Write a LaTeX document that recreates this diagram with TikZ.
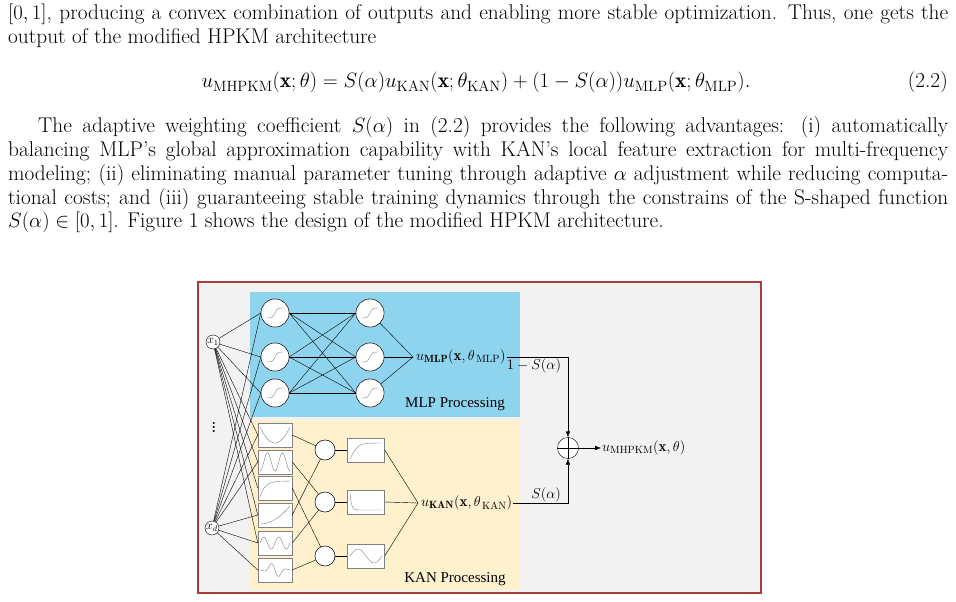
\documentclass[tikz,border=0pt]{standalone}
\usepackage{amsmath}
\usepackage{fontspec}
\newfontfamily\figfont{Liberation Serif}
\usetikzlibrary{arrows.meta}
\definecolor{framered}{RGB}{170,60,55}
\definecolor{framebg}{RGB}{242,242,242}
\definecolor{mlpblue}{RGB}{143,212,238}
\definecolor{kanyellow}{RGB}{255,241,206}
\tikzset{
  line/.style={anchor=base west,inner sep=0pt,font=\fontsize{21.3}{24}\selectfont},
  neuron/.style={circle,draw,fill=white,minimum size=28pt,inner sep=0pt},
  innode/.style={circle,draw,fill=white,minimum size=14pt,inner sep=0pt,font=\fontsize{12}{12}\selectfont},
  knode/.style={circle,draw,fill=white,minimum size=20pt,inner sep=0pt},
  kbox/.style={draw=gray,fill=white,minimum width=34pt,minimum height=24pt,inner sep=0pt},
  curve/.style={gray,thin,smooth},
  figtxt/.style={font=\figfont\fontsize{15}{16}\selectfont,inner sep=1pt}
}
\newcommand{\sigm}[1]{\draw[curve,shift={(#1.center)}] plot[domain=-9:9,samples=20] (\x,{-5*tanh(\x/2.5)});}
\begin{document}
\begin{tikzpicture}[x=1pt,y=-1pt]
\useasboundingbox (0,0) rectangle (956,602);
% text
\node[line] (t1) at (8,20) {\makebox[940pt][s]{$[0,1]$, producing a convex combination of outputs and enabling more stable optimization. Thus, one gets the}};
\node[line] (t2) at (8,44) {output of the modified HPKM architecture};
\node[line,anchor=base] (eq) at (476,88) {$u_{\mathrm{MHPKM}}(\mathbf{x};\theta)=S(\alpha)u_{\mathrm{KAN}}(\mathbf{x};\theta_{\mathrm{KAN}})+(1-S(\alpha))u_{\mathrm{MLP}}(\mathbf{x};\theta_{\mathrm{MLP}}).$};
\node[line,anchor=base east] (eqn) at (948,88) {(2.2)};
\node[line] (p1) at (38,132) {\makebox[910pt][s]{The adaptive weighting coefficient $S(\alpha)$ in (2.2) provides the following advantages: (i) automatically}};
\node[line] (p2) at (8,156) {\makebox[940pt][s]{balancing MLP's global approximation capability with KAN's local feature extraction for multi-frequency}};
\node[line] (p3) at (8,180) {\makebox[940pt][s]{modeling; (ii) eliminating manual parameter tuning through adaptive $\alpha$ adjustment while reducing computa-}};
\node[line] (p4) at (8,204) {\makebox[940pt][s]{tional costs; and (iii) guaranteeing stable training dynamics through the constrains of the S-shaped function}};
\node[line] (p5) at (8,227) {$S(\alpha)\in[0,1]$. Figure 1 shows the design of the modified HPKM architecture.};

% figure frame
\draw[draw=framered,line width=1.2pt,fill=framebg] (198,282) rectangle (761,593);
\fill[mlpblue] (250,292) rectangle (520,417);
\fill[kanyellow] (250,420) rectangle (520,590);

% inputs
\node[innode] (x1) at (213,342) {$x_1$};
\node[innode] (xd) at (212,528) {$x_d$};
\node[font=\Large\bfseries,inner sep=0pt] (dots) at (214,424) {$\vdots$};

% MLP neurons
\foreach \i/\y in {1/313,2/357,3/393} {
  \node[neuron] (a\i) at (275,\y) {};
  \node[neuron] (b\i) at (370,\y) {};
}
\coordinate (mlp) at (413,357);
\coordinate (kan) at (418,503);

% KAN boxes
\foreach \i/\y in {1/435,2/462,3/488,4/515,5/543,6/570}
  \node[kbox] (k\i) at (275,\y) {};
\foreach \i/\y in {1/450,2/502,3/556} {
  \node[knode] (c\i) at (325,\y) {};
  \node[kbox,minimum width=37pt] (d\i) at (366,\y) {};
}

% edges
\foreach \i in {1,2,3} {
  \draw (x1) -- (a\i.west);
  \draw (xd) -- (a\i.west);
  \draw (x1) -- (k\i.west);
  \draw (b\i) -- (mlp);
  \draw (c\i) -- (d\i);
  \draw (d\i.east) -- (kan);
  \foreach \j in {1,2,3}
    \draw (a\i.east) -- (b\j.west);
}
\foreach \i in {4,5,6} \draw (xd) -- (k\i.west);
\draw (x1) -- (k4.west);
\draw (x1) -- (k5.west);
\draw (xd) -- (k1.west);
\draw (xd) -- (k2.west);
\draw (k1.east) -- (c1);
\draw (k2.east) -- (c2);
\draw (k3.east) -- (c3);
\draw (k4.east) -- (c1);
\draw (k5.east) -- (c2);
\draw (k6.east) -- (c3);
\foreach \i in {1,2,3} {\node[neuron] at (a\i) {}; \node[neuron] at (b\i) {}; \sigm{a\i} \sigm{b\i}}
\foreach \i in {1,2,3} \node[knode] at (c\i) {};

% curves
\draw[curve,shift={(k1.center)}] plot[domain=-15:15,samples=25] (\x,{8-16*(\x/15)^2});
\draw[curve,shift={(k2.center)}] plot[domain=-15:15,samples=40] (\x,{9-18*sin(\x*12)^2});
\draw[curve,shift={(k3.center)}] plot[domain=-15:15,samples=25] (\x,{9-16*(1-exp(-(\x+15)/5))});
\draw[curve,shift={(k4.center)}] plot[domain=-15:15,samples=25] (\x,{9-18*((\x+15)/30)^2});
\draw[curve,shift={(k5.center)}] plot[domain=-15:15,samples=40] (\x,{-6*sin(\x*24)});
\draw[curve,shift={(k6.center)}] plot[domain=-15:15,samples=40] (\x,{8*sin(\x*22)*exp(-(\x/8)^2)});
\draw[curve,shift={(d1.center)}] plot[domain=-16:16,samples=25] (\x,{9-16*tanh((\x+16)/8)});
\draw[curve,shift={(d2.center)}] plot[domain=-16:16,samples=40] (\x,{-9+17*(1-exp(-(\x+16)/1.5))});
\draw[curve,shift={(d3.center)}] plot[domain=-16:16,samples=40] (\x,{7*sin(\x*11.25)});

% labels
\node[figtxt,anchor=west] (umlp) at (415,357) {$u_{\mathbf{MLP}}(\mathbf{x},\theta_{\,\mathrm{MLP}})$};
\node[figtxt,anchor=west] (ukan) at (420,503) {$u_{\mathbf{KAN}}(\mathbf{x},\theta_{\,\mathrm{KAN}})$};
\node[figtxt] (mlpt) at (455,404) {MLP Processing};
\node[figtxt] (kant) at (455,579) {KAN Processing};
\node[circle,draw,fill=white,minimum size=21pt,inner sep=0pt] (sum) at (568,448) {};
\draw (sum.north) -- (sum.south) (sum.west) -- (sum.east);
\draw[-{Latex[length=6pt]}] (umlp.east) -| (sum.north) node[pos=0.42,below left,figtxt,xshift=4pt] {$1-S(\alpha)$};
\draw[-{Latex[length=6pt]}] (ukan.east) -| (sum.south) node[pos=0.3,above,figtxt] {$S(\alpha)$};
\node[figtxt,anchor=west] (out) at (601,448) {$u_{\mathrm{MHPKM}}(\mathbf{x},\theta)$};
\draw[-{Latex[length=6pt]}] (sum) -- (out);
\end{tikzpicture}
\end{document}
